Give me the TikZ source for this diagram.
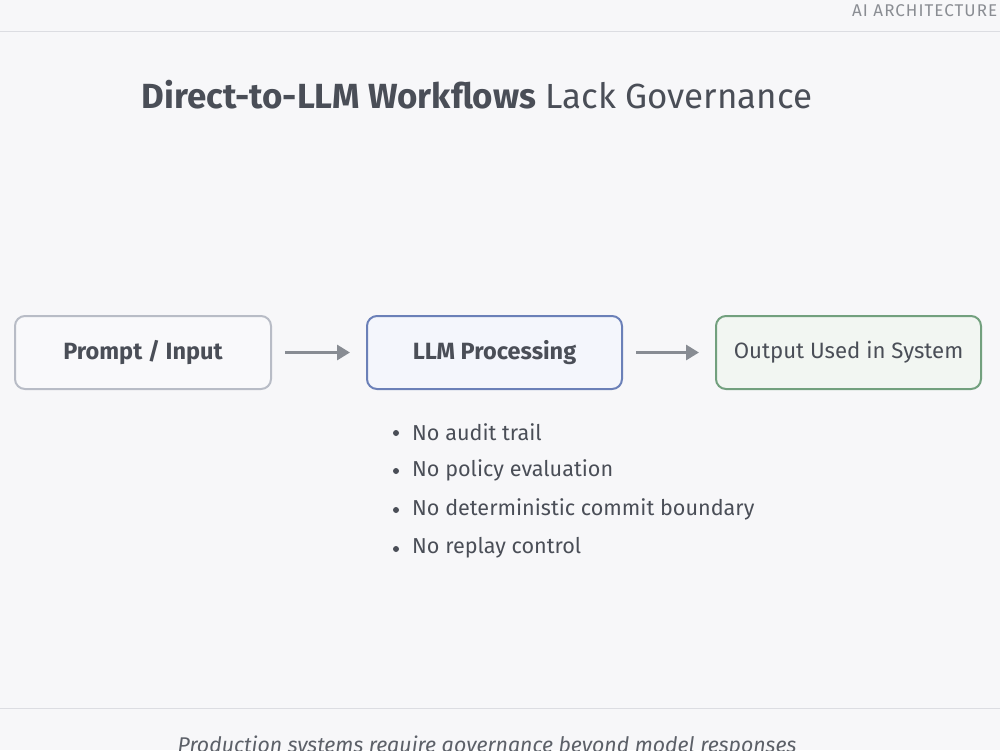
\documentclass[tikz,border=0pt]{standalone}
\usepackage{fontspec}
\setmainfont{Fira Sans}
\usetikzlibrary{arrows.meta}
\definecolor{bg}{HTML}{F7F7F9}
\definecolor{rulec}{HTML}{DCDDE2}
\definecolor{txt}{HTML}{4A4E57}
\definecolor{hdr}{HTML}{8A8D93}
\definecolor{grayb}{HTML}{B8BCC6}
\definecolor{grayf}{HTML}{F9F9FB}
\definecolor{blueb}{HTML}{6B80B8}
\definecolor{bluef}{HTML}{F4F6FC}
\definecolor{greenb}{HTML}{72A07E}
\definecolor{greenf}{HTML}{F2F6F2}
\definecolor{arr}{HTML}{888C93}
\tikzset{
  box/.style={draw, line width=2pt, rounded corners=10pt, minimum height=73pt, text=txt, font=\fontsize{23.5}{28}\selectfont\bfseries, inner sep=0pt},
  flow/.style={draw=arr, line width=3pt, -{Triangle[length=13pt,width=15pt]}},
  bul/.style={anchor=west, text=txt, font=\fontsize{21.6}{26}\selectfont, inner sep=0pt},
  dot/.style={circle, fill=txt, inner sep=0pt, minimum size=6pt}
}
\begin{document}
\begin{tikzpicture}[x=1pt,y=-1pt]
\useasboundingbox (0,0) rectangle (1000,750);
\fill[bg] (0,0) rectangle (1000,750);
\begin{scope}
\clip (0,0) rectangle (1000,750);
\node[anchor=base west, text=hdr, font=\fontsize{17}{20}\selectfont\addfontfeature{LetterSpace=6}, inner sep=0pt] (hdr) at (852,16) {AI ARCHITECTURE};
\draw[rulec, line width=1pt] (0,31) -- (1000,31);
\draw[rulec, line width=1pt] (0,708) -- (1000,708);
\node[anchor=base, text=txt!90, font=\fontsize{21.3}{26}\selectfont\itshape, inner sep=0pt] (foot) at (487,752) {Production systems require governance beyond model responses};
\end{scope}
\node[anchor=base, text=txt, font=\fontsize{34.9}{40}\selectfont, inner sep=0pt] (title) at (477,108) {\textbf{Direct-to-LLM Workflows} Lack Governance};
\node[box, draw=grayb, fill=grayf, minimum width=256pt] (p) at (143,352.5) {Prompt / Input};
\node[box, draw=blueb, fill=bluef, minimum width=255pt] (l) at (494.5,352.5) {LLM Processing};
\node[box, draw=greenb, fill=greenf, minimum width=265pt, font=\fontsize{22.2}{26}\selectfont\mdseries] (o) at (848.5,352.5) {Output Used in System};
\coordinate (a1s) at ([xshift=13pt]p.east);
\coordinate (a1e) at ([xshift=-16pt]l.west);
\coordinate (a2s) at ([xshift=13pt]l.east);
\coordinate (a2e) at ([xshift=-16pt]o.west);
\draw[flow] (a1s) -- (a1e);
\draw[flow] (a2s) -- (a2e);
\node[bul] (b1) at (412,432) {No audit trail};
\node[bul] (b2) at (412,470) {No policy evaluation};
\node[bul] (b3) at (412,509) {No deterministic commit boundary};
\node[bul] (b4) at (412,548) {No replay control};
\foreach \b in {b1,b2,b3,b4} \node[dot] at ([xshift=-16pt,yshift=-1pt]\b.west) {};
\end{tikzpicture}
\end{document}
